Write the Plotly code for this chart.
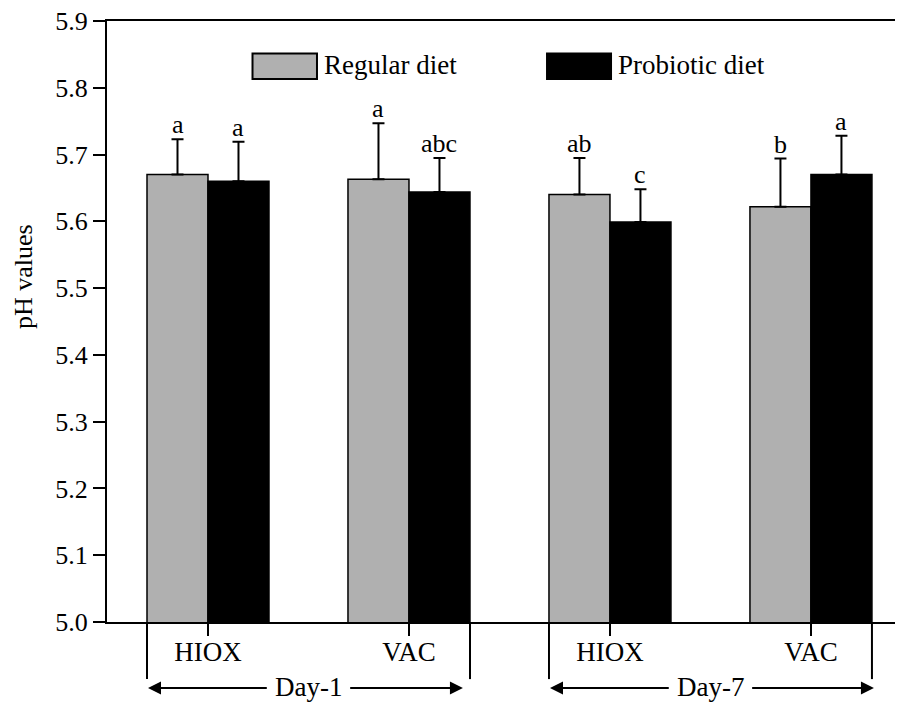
import plotly.graph_objects as go

# ---- data ----
storage = ["HIOX", "VAC", "HIOX", "VAC"]
days = ["Day-1", "Day-7"]
group_pos = [1, 2, 3, 4]
regular = [5.670, 5.663, 5.640, 5.622]
probiotic = [5.660, 5.644, 5.599, 5.670]
regular_err = [0.053, 0.084, 0.055, 0.072]
probiotic_err = [0.059, 0.051, 0.049, 0.058]
regular_letters = ["a", "a", "ab", "b"]
probiotic_letters = ["a", "abc", "c", "a"]
yticks = [5.0, 5.1, 5.2, 5.3, 5.4, 5.5, 5.6, 5.7, 5.8, 5.9]

# ---- style ----
FONT = "Liberation Serif"
GRAY = "#b0b0b0"
BAR_W = 0.3035
FS = 27

fig = go.Figure()
fig.add_trace(go.Bar(
    x=group_pos, y=regular, width=BAR_W, offset=-BAR_W,
    marker=dict(color=GRAY, line=dict(color="black", width=1.5)),
    error_y=dict(type="data", array=regular_err, arrayminus=[0] * 4, symmetric=False,
                 color="black", thickness=2, width=6),
    name="Regular diet", showlegend=False))
fig.add_trace(go.Bar(
    x=group_pos, y=probiotic, width=BAR_W, offset=0,
    marker=dict(color="black", line=dict(color="black", width=1.5)),
    error_y=dict(type="data", array=probiotic_err, arrayminus=[0] * 4, symmetric=False,
                 color="black", thickness=2, width=6),
    name="Probiotic diet", showlegend=False))

ann = []
# significance letters
for p, v, e, t in zip(group_pos, regular, regular_err, regular_letters):
    ann.append(dict(x=p - BAR_W / 2, y=v + e, text=t, showarrow=False, yanchor="bottom",
                    xref="x", yref="y", font=dict(family=FONT, size=FS - 1, color="black"), yshift=-2))
for p, v, e, t in zip(group_pos, probiotic, probiotic_err, probiotic_letters):
    ann.append(dict(x=p + BAR_W / 2, y=v + e, text=t, showarrow=False, yanchor="bottom",
                    xref="x", yref="y", font=dict(family=FONT, size=FS - 1, color="black"), yshift=-2))

shapes = []
# day brackets and arrows
ARROW_Y = -0.11
for i, d in enumerate(days):
    left = group_pos[2 * i] - BAR_W
    right = group_pos[2 * i + 1] + BAR_W
    mid = (left + right) / 2
    for xx in (left, right):
        shapes.append(dict(type="line", xref="x", yref="paper", x0=xx, x1=xx, y0=0, y1=-0.095,
                           line=dict(color="black", width=2)))
    ann.append(dict(x=mid, y=ARROW_Y, xref="x", yref="paper", text=d, showarrow=False,
                    yanchor="middle", xanchor="center",
                    font=dict(family=FONT, size=FS, color="black"), yshift=1))
    ann.append(dict(x=left + 0.005, y=ARROW_Y, xref="x", yref="paper", ax=mid - 0.2, ay=0,
                    axref="x", ayref="pixel", text="", showarrow=True, arrowhead=2,
                    arrowsize=1.3, arrowwidth=2, arrowcolor="black", standoff=0, startstandoff=0))
    ann.append(dict(x=right - 0.035 if i == 0 else right + 0.01, y=ARROW_Y, xref="x", yref="paper",
                    ax=mid + 0.2, ay=0, axref="x", ayref="pixel", text="", showarrow=True,
                    arrowhead=2, arrowsize=1.3, arrowwidth=2, arrowcolor="black",
                    standoff=0, startstandoff=0))

# legend
leg = [("Regular diet", GRAY, 0.1828, 0.2638), ("Probiotic diet", "black", 0.5528, 0.6332)]
for name, col, x0, x1 in leg:
    shapes.append(dict(type="rect", xref="paper", yref="paper", x0=x0, x1=x1, y0=0.9035, y1=0.9458,
                       fillcolor=col, line=dict(color="black", width=2)))
    ann.append(dict(x=x1 + 0.006, y=0.926, xref="paper", yref="paper", text=name, showarrow=False,
                    xanchor="left", yanchor="middle", font=dict(family=FONT, size=FS, color="black")))

# y-axis title
ann.append(dict(x=-0.1055, y=0.574, xref="paper", yref="paper", text="pH values", showarrow=False,
                textangle=-90, xanchor="center", yanchor="middle",
                font=dict(family=FONT, size=FS - 1, color="black")))

# page body has an 8px margin; the figure is sized so that it fills the window
fig.update_layout(
    width=895, height=695,
    margin=dict(l=99, r=0, t=13, b=81),
    paper_bgcolor="white", plot_bgcolor="white",
    barmode="overlay",
    font=dict(family=FONT, size=FS, color="black"),
    annotations=ann, shapes=shapes,
    xaxis=dict(range=[0.4975, 4.458], tickvals=group_pos, ticktext=storage,
               ticks="outside", ticklen=12, tickwidth=2, tickcolor="black",
               showline=True, linewidth=2, linecolor="black", mirror=True,
               showgrid=False, zeroline=False, ticklabelstandoff=-7,
               tickfont=dict(family=FONT, size=FS, color="black")),
    yaxis=dict(range=[5.0, 5.9], tickvals=yticks, ticktext=[f"{v:.1f}" for v in yticks],
               ticks="outside", ticklen=12, tickwidth=2, tickcolor="black",
               showline=True, linewidth=2, linecolor="black", mirror=False,
               showgrid=False, zeroline=False, ticklabeloverflow="allow",
               tickfont=dict(family=FONT, size=FS - 1, color="black")),
)

fig.write_html("out.html")
